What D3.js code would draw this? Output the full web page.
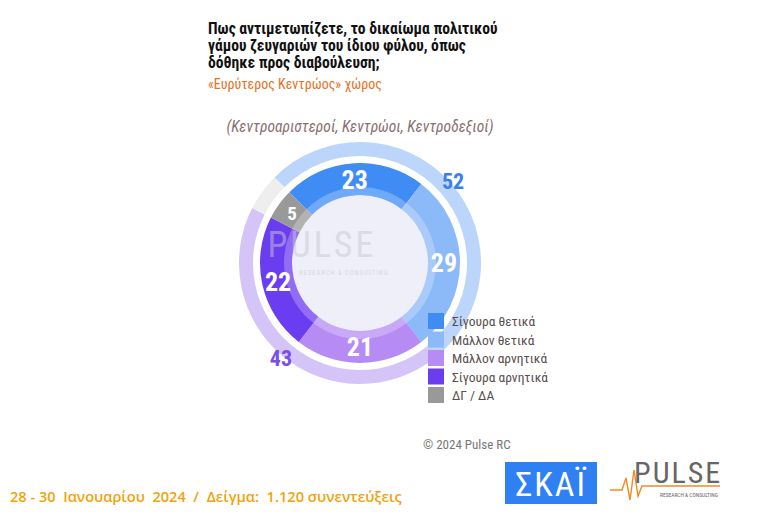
<!DOCTYPE html>
<html>
<head>
<meta charset="utf-8">
<script src="https://cdn.jsdelivr.net/npm/d3@7"></script>
<style>
  body { margin: 0; background: #fff; }
  svg text { font-family: "Roboto Condensed", "Liberation Sans Narrow", Roboto, sans-serif; }
</style>
</head>
<body>
<svg id="chart" width="760" height="518"></svg>
<script>
// answers (inner ring)
var categories = ["Σίγουρα θετικά", "Μάλλον θετικά", "Μάλλον αρνητικά", "Σίγουρα αρνητικά", "ΔΓ / ΔΑ"];
var values = [23, 29, 21, 22, 5];
var colors = ["#3f8cf4", "#8cb9f8", "#b68cf4", "#6b3df0", "#999999"];

// grouped totals (outer ring)
var groups = ["Θετικά", "Αρνητικά", "ΔΓ / ΔΑ"];
var groupValues = [52, 43, 5];
var groupColors = ["#bcd5fb", "#d5c4f8", "#eeeeee"];
var groupText = ["#3a7ef0", "#7a4ee8", null];

var titleLines = ["Πως αντιμετωπίζετε, το δικαίωμα πολιτικού",
                  "γάμου ζευγαριών του ίδιου φύλου, όπως",
                  "δόθηκε προς διαβούλευση;"];

var svg = d3.select("#chart");
var cx = 360, cy = 263;
var start = -45 * Math.PI / 180;

var pie = d3.pie().sort(null).startAngle(start).endAngle(start + 2 * Math.PI);

// title
var title = svg.append("g");
titleLines.forEach(function(t, i) {
  title.append("text").attr("x", 208).attr("y", 34 + i * 17)
    .attr("font-size", 15.6).attr("font-weight", 700).attr("fill", "#111").text(t);
});
title.append("text").attr("x", 208).attr("y", 89)
  .attr("font-size", 14).attr("fill", "#e8701e").text("«Ευρύτερος Κεντρώος» χώρος");

svg.append("text").attr("x", 360).attr("y", 132).attr("text-anchor", "middle")
  .attr("font-size", 15.5).attr("font-style", "italic").attr("fill", "#8a6f6f")
  .text("(Κεντροαριστεροί, Κεντρώοι, Κεντροδεξιοί)");

var g = svg.append("g").attr("transform", "translate(" + cx + "," + cy + ")");

// center disc
g.append("circle").attr("r", 68).attr("fill", "#efeffa");

// outer ring
var outerArc = d3.arc().innerRadius(107).outerRadius(121);
var outer = pie(groupValues);
g.selectAll(".outer").data(outer).enter().append("path")
  .attr("class", "outer")
  .attr("d", outerArc)
  .attr("fill", function(d, i) { return groupColors[i]; });

// inner ring
var innerArc = d3.arc().innerRadius(68).outerRadius(100);
var inner = pie(values);
g.selectAll(".inner").data(inner).enter().append("path")
  .attr("class", "inner")
  .attr("d", innerArc)
  .attr("fill", function(d, i) { return colors[i]; });

// lighter inside band
var bandArc = d3.arc().innerRadius(68).outerRadius(76);
g.selectAll(".band").data(inner).enter().append("path")
  .attr("d", bandArc).attr("fill", "#fff").attr("opacity", 0.25);

// watermark
g.append("text").attr("x", -38).attr("y", -6).attr("text-anchor", "middle")
  .attr("font-size", 36).attr("fill", "#c9c6d6").attr("opacity", 0.5)
  .attr("letter-spacing", 3).text("PULSE");
g.append("text").attr("x", -16).attr("y", 12).attr("text-anchor", "middle")
  .attr("font-size", 6.5).attr("fill", "#c9c6d6").attr("opacity", 0.6)
  .attr("letter-spacing", 1).text("RESEARCH & CONSULTING");

// inner labels
var labelArc = d3.arc().innerRadius(84).outerRadius(84);
g.selectAll(".lbl").data(inner).enter().append("text")
  .attr("transform", function(d) { return "translate(" + labelArc.centroid(d) + ")"; })
  .attr("text-anchor", "middle").attr("dy", "0.36em")
  .attr("font-size", function(d) { return d.value < 10 ? 19 : 26; })
  .attr("font-weight", 700).attr("fill", "#fff")
  .text(function(d) { return d.value; });

// outer labels
var outerLabelArc = d3.arc().innerRadius(124).outerRadius(124);
g.selectAll(".olbl").data(outer.filter(function(d, i) { return groupText[i]; })).enter().append("text")
  .attr("transform", function(d) { return "translate(" + outerLabelArc.centroid(d) + ")"; })
  .attr("text-anchor", "middle").attr("dy", "0.36em")
  .attr("font-size", 22).attr("font-weight", 700)
  .attr("fill", function(d) { return groupText[d.index]; })
  .text(function(d) { return d.value; });

// legend
var legend = svg.append("g").attr("transform", "translate(428,313)");
var item = legend.selectAll(".leg").data(categories).enter().append("g")
  .attr("transform", function(d, i) { return "translate(0," + i * 18.5 + ")"; });
item.append("rect").attr("width", 16).attr("height", 16)
  .attr("fill", function(d, i) { return colors[i]; });
item.append("text").attr("x", 24).attr("y", 13).attr("font-size", 13.5)
  .attr("fill", "#5a4d4d").text(function(d) { return d; });

// copyright
svg.append("text").attr("x", 423).attr("y", 449).attr("font-size", 13)
  .attr("fill", "#777").text("© 2024 Pulse RC");

// footer
svg.append("text").attr("x", 10).attr("y", 502)
  .style("font-family", "'Open Sans', sans-serif").style("font-size", "14.6px")
  .attr("font-weight", 600).attr("fill", "#f0a30a")
  .attr("xml:space", "preserve")
  .text("28 - 30  Ιανουαρίου  2024  /  Δείγμα:  1.120 συνεντεύξεις");

// SKAI logo
svg.append("rect").attr("x", 505).attr("y", 462).attr("width", 92).attr("height", 42).attr("fill", "#2f80f2");
svg.append("text").attr("x", 551).attr("y", 496).attr("text-anchor", "middle")
  .attr("font-size", 34).attr("fill", "#fff").attr("letter-spacing", 2).text("ΣΚΑΪ");

// PULSE logo
svg.append("path").attr("d", "M610,490 L622,490 L626,478 L630,500 L634,470 L638,496 L642,486 L720,486")
  .attr("fill", "none").attr("stroke", "#f28a1e").attr("stroke-width", 1.4);
svg.append("text").attr("x", 634).attr("y", 483).attr("font-size", 30)
  .attr("fill", "#666").attr("letter-spacing", 2).text("PULSE");
svg.append("text").attr("x", 660).attr("y", 497).attr("font-size", 5.5)
  .attr("fill", "#666").text("RESEARCH & CONSULTING");
</script>
</body>
</html>
